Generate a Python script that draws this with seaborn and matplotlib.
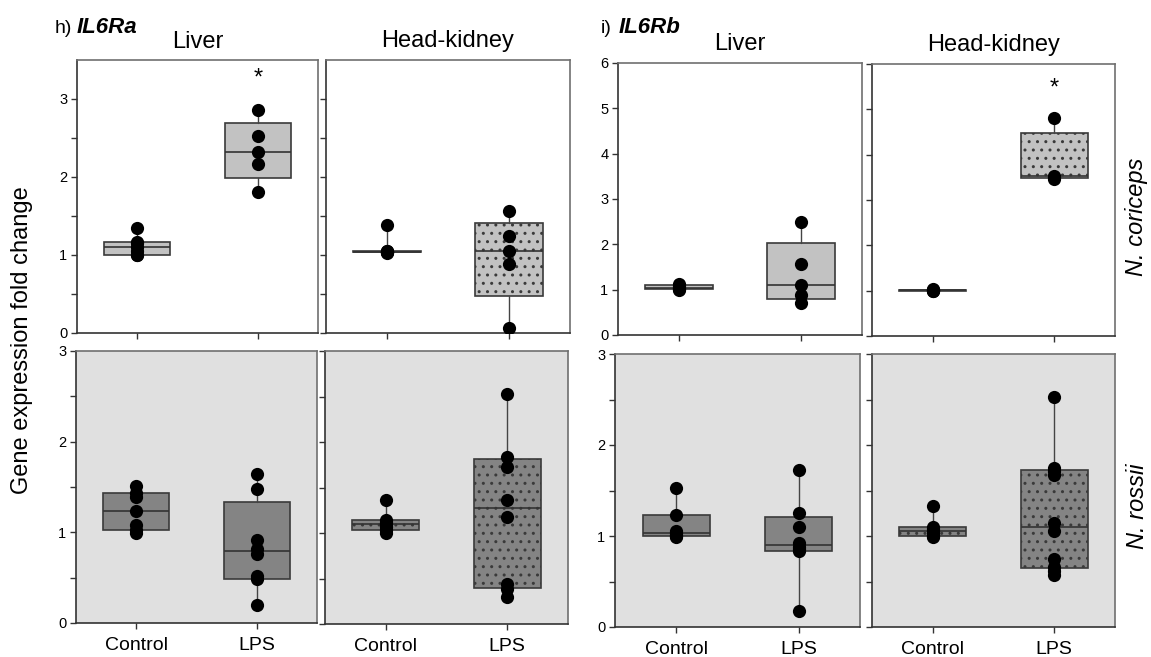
import numpy as np
import pandas as pd
import matplotlib
matplotlib.use("Agg")
import matplotlib.pyplot as plt
import seaborn as sns
from matplotlib.ticker import MultipleLocator, FixedLocator

# ---------------- data ----------------
groups = ["Control", "LPS"]
tissues = ["Liver", "Head-kidney"]
species = ["N. coriceps", "N. rossii"]

# IL6Ra
il6ra_nc_liver_control = [1.00, 1.00, 1.05, 1.10, 1.15, 1.17, 1.34]
il6ra_nc_liver_lps = [1.81, 2.17, 2.32, 2.53, 2.86]
il6ra_nc_hk_control = [1.03, 1.04, 1.04, 1.04, 1.05, 1.05, 1.39]
il6ra_nc_hk_lps = [0.06, 0.89, 1.05, 1.25, 1.57]
il6ra_nr_liver_control = [0.99, 1.03, 1.08, 1.23, 1.39, 1.43, 1.51]
il6ra_nr_liver_lps = [0.20, 0.48, 0.52, 0.76, 0.82, 0.91, 1.48, 1.64]
il6ra_nr_hk_control = [1.00, 1.03, 1.07, 1.10, 1.12, 1.14, 1.36]
il6ra_nr_hk_lps = [0.30, 0.38, 0.44, 1.18, 1.36, 1.72, 1.84, 2.53]

# IL6Rb
il6rb_nc_liver_control = [1.00, 1.02, 1.03, 1.09, 1.12]
il6rb_nc_liver_lps = [0.70, 0.88, 1.10, 1.56, 2.49]
il6rb_nc_hk_control = [0.99, 1.00, 1.01, 1.02, 1.03]
il6rb_nc_hk_lps = [3.47, 3.50, 3.54, 4.80]
il6rb_nr_liver_control = [0.99, 1.00, 1.01, 1.03, 1.06, 1.23, 1.53]
il6rb_nr_liver_lps = [0.18, 0.83, 0.86, 0.88, 0.92, 1.10, 1.25, 1.72]
il6rb_nr_hk_control = [0.99, 1.00, 1.02, 1.05, 1.08, 1.10, 1.33]
il6rb_nr_hk_lps = [0.57, 0.62, 0.66, 0.75, 1.06, 1.14, 1.67, 1.71, 1.75, 2.53]

# significance markers (height in data units)
il6ra_nc_liver_star = 3.26
il6rb_nc_hk_star = 5.46

# ---------------- style ----------------
sns.set_theme(style="white")
plt.rcParams["font.family"] = ["Liberation Sans", "DejaVu Sans"]
plt.rcParams["hatch.linewidth"] = 1.0
plt.rcParams["text.color"] = "black"
plt.rcParams["xtick.color"] = "black"
plt.rcParams["ytick.color"] = "black"
plt.rcParams["xtick.labelcolor"] = "black"
plt.rcParams["ytick.labelcolor"] = "black"

W, H = 1151, 657
fig = plt.figure(figsize=(W / 100, H / 100), dpi=100)


def rect(l, t, r, b):
    return [l / W, 1 - b / H, (r - l) / W, (b - t) / H]


TOP_FACE = "#c2c2c2"
BOT_FACE = "#848484"
BOT_BG = "#e0e0e0"


def panel(pos, ctrl, lps, face, bg, hatch, ylim, major, minor,
          ylabels, xlabels, title=None, star=None):
    ax = fig.add_axes(rect(*pos))
    ax.set_facecolor(bg)
    stats = []
    for vals in (ctrl, lps):
        v = np.asarray(vals, dtype=float)
        q1, med, q3 = np.percentile(v, [25, 50, 75], method="weibull")
        stats.append(dict(med=med, q1=q1, q3=q3, whislo=v.min(),
                          whishi=v.max(), fliers=[]))
    ax.bxp(stats, positions=[0, 1], widths=0.55, patch_artist=True,
           showcaps=False, showfliers=False, manage_ticks=False,
           boxprops=dict(facecolor=face, edgecolor="#3a3a3a",
                         linewidth=1.2, hatch=hatch),
           medianprops=dict(color="#333333", linewidth=1.2),
           whiskerprops=dict(color="#444444", linewidth=1.0))
    df = pd.DataFrame({
        "group": [groups[0]] * len(ctrl) + [groups[1]] * len(lps),
        "value": list(ctrl) + list(lps),
    })
    sns.stripplot(data=df, x="group", y="value", order=groups,
                  jitter=False, color="black", size=9.5, ax=ax,
                  zorder=4, linewidth=0)
    ax.set_xlim(-0.5, 1.5)
    ax.set_ylim(*ylim)
    ax.yaxis.set_major_locator(MultipleLocator(major))
    if minor:
        ax.yaxis.set_minor_locator(
            FixedLocator(list(np.arange(minor, ylim[1] - 1e-9, major))))
    ax.set_xlabel("")
    ax.set_ylabel("")
    ax.tick_params(axis="both", which="both", direction="out", length=4,
                   width=1, color="#333333", left=True, bottom=True,
                   labelsize=10.5, pad=3, labelcolor="black")
    ax.tick_params(axis="x", labelsize=14, pad=6)
    ax.tick_params(labelleft=ylabels, labelbottom=xlabels)
    for side in ("left", "bottom"):
        ax.spines[side].set_color("#333333")
        ax.spines[side].set_linewidth(1.2)
    for side in ("top", "right"):
        ax.spines[side].set_color("#707070")
        ax.spines[side].set_linewidth(1.2)
    if title:
        ax.set_title(title, fontsize=17, pad=9, color="black")
    if star is not None:
        ax.text(1, star, "*", ha="center", va="center", fontsize=17,
                color="black")
    return ax


# IL6Ra (h)
panel((77, 60, 318, 333), il6ra_nc_liver_control, il6ra_nc_liver_lps,
      TOP_FACE, "white", None, (0, 3.5), 1, 0.5, True, False,
      title=tissues[0], star=il6ra_nc_liver_star)
panel((326, 60, 570, 333), il6ra_nc_hk_control, il6ra_nc_hk_lps,
      TOP_FACE, "white", "..", (0, 3.5), 1, 0.5, False, False,
      title=tissues[1])
panel((76, 351, 317, 623), il6ra_nr_liver_control, il6ra_nr_liver_lps,
      BOT_FACE, BOT_BG, None, (0, 3), 1, 0.5, True, True)
panel((325, 351, 568, 624), il6ra_nr_hk_control, il6ra_nr_hk_lps,
      BOT_FACE, BOT_BG, "..", (0, 3), 1, 0.5, False, True)

# IL6Rb (i)
panel((618, 63, 862, 335), il6rb_nc_liver_control, il6rb_nc_liver_lps,
      TOP_FACE, "white", None, (0, 6), 1, None, True, False,
      title=tissues[0])
panel((872, 64, 1115, 336), il6rb_nc_hk_control, il6rb_nc_hk_lps,
      TOP_FACE, "white", "..", (0, 6), 1, None, False, False,
      title=tissues[1], star=il6rb_nc_hk_star)
panel((615, 354, 860, 627), il6rb_nr_liver_control, il6rb_nr_liver_lps,
      BOT_FACE, BOT_BG, None, (0, 3), 1, 0.5, True, True)
panel((872, 354, 1115, 627), il6rb_nr_hk_control, il6rb_nr_hk_lps,
      BOT_FACE, BOT_BG, "..", (0, 3), 1, 0.5, False, True)

# panel letters and gene names
fig.text(55 / W, 1 - 33 / H, "h)", fontsize=14, va="baseline", ha="left")
fig.text(77 / W, 1 - 33 / H, "IL6Ra", fontsize=16, fontweight="bold",
         fontstyle="italic", va="baseline", ha="left")
fig.text(601 / W, 1 - 33 / H, "i)", fontsize=14, va="baseline", ha="left")
fig.text(619 / W, 1 - 33 / H, "IL6Rb", fontsize=16, fontweight="bold",
         fontstyle="italic", va="baseline", ha="left")

# shared y label
fig.text(22 / W, 1 - 340 / H, "Gene expression fold change", rotation=90,
         fontsize=17, ha="center", va="center")

# species labels
fig.text(1137 / W, 1 - 217 / H, species[0], rotation=90, fontsize=17,
         fontstyle="italic", ha="center", va="center")
fig.text(1137 / W, 1 - 506 / H, species[1], rotation=90, fontsize=17,
         fontstyle="italic", ha="center", va="center")

fig.savefig("out.png", dpi=100)
